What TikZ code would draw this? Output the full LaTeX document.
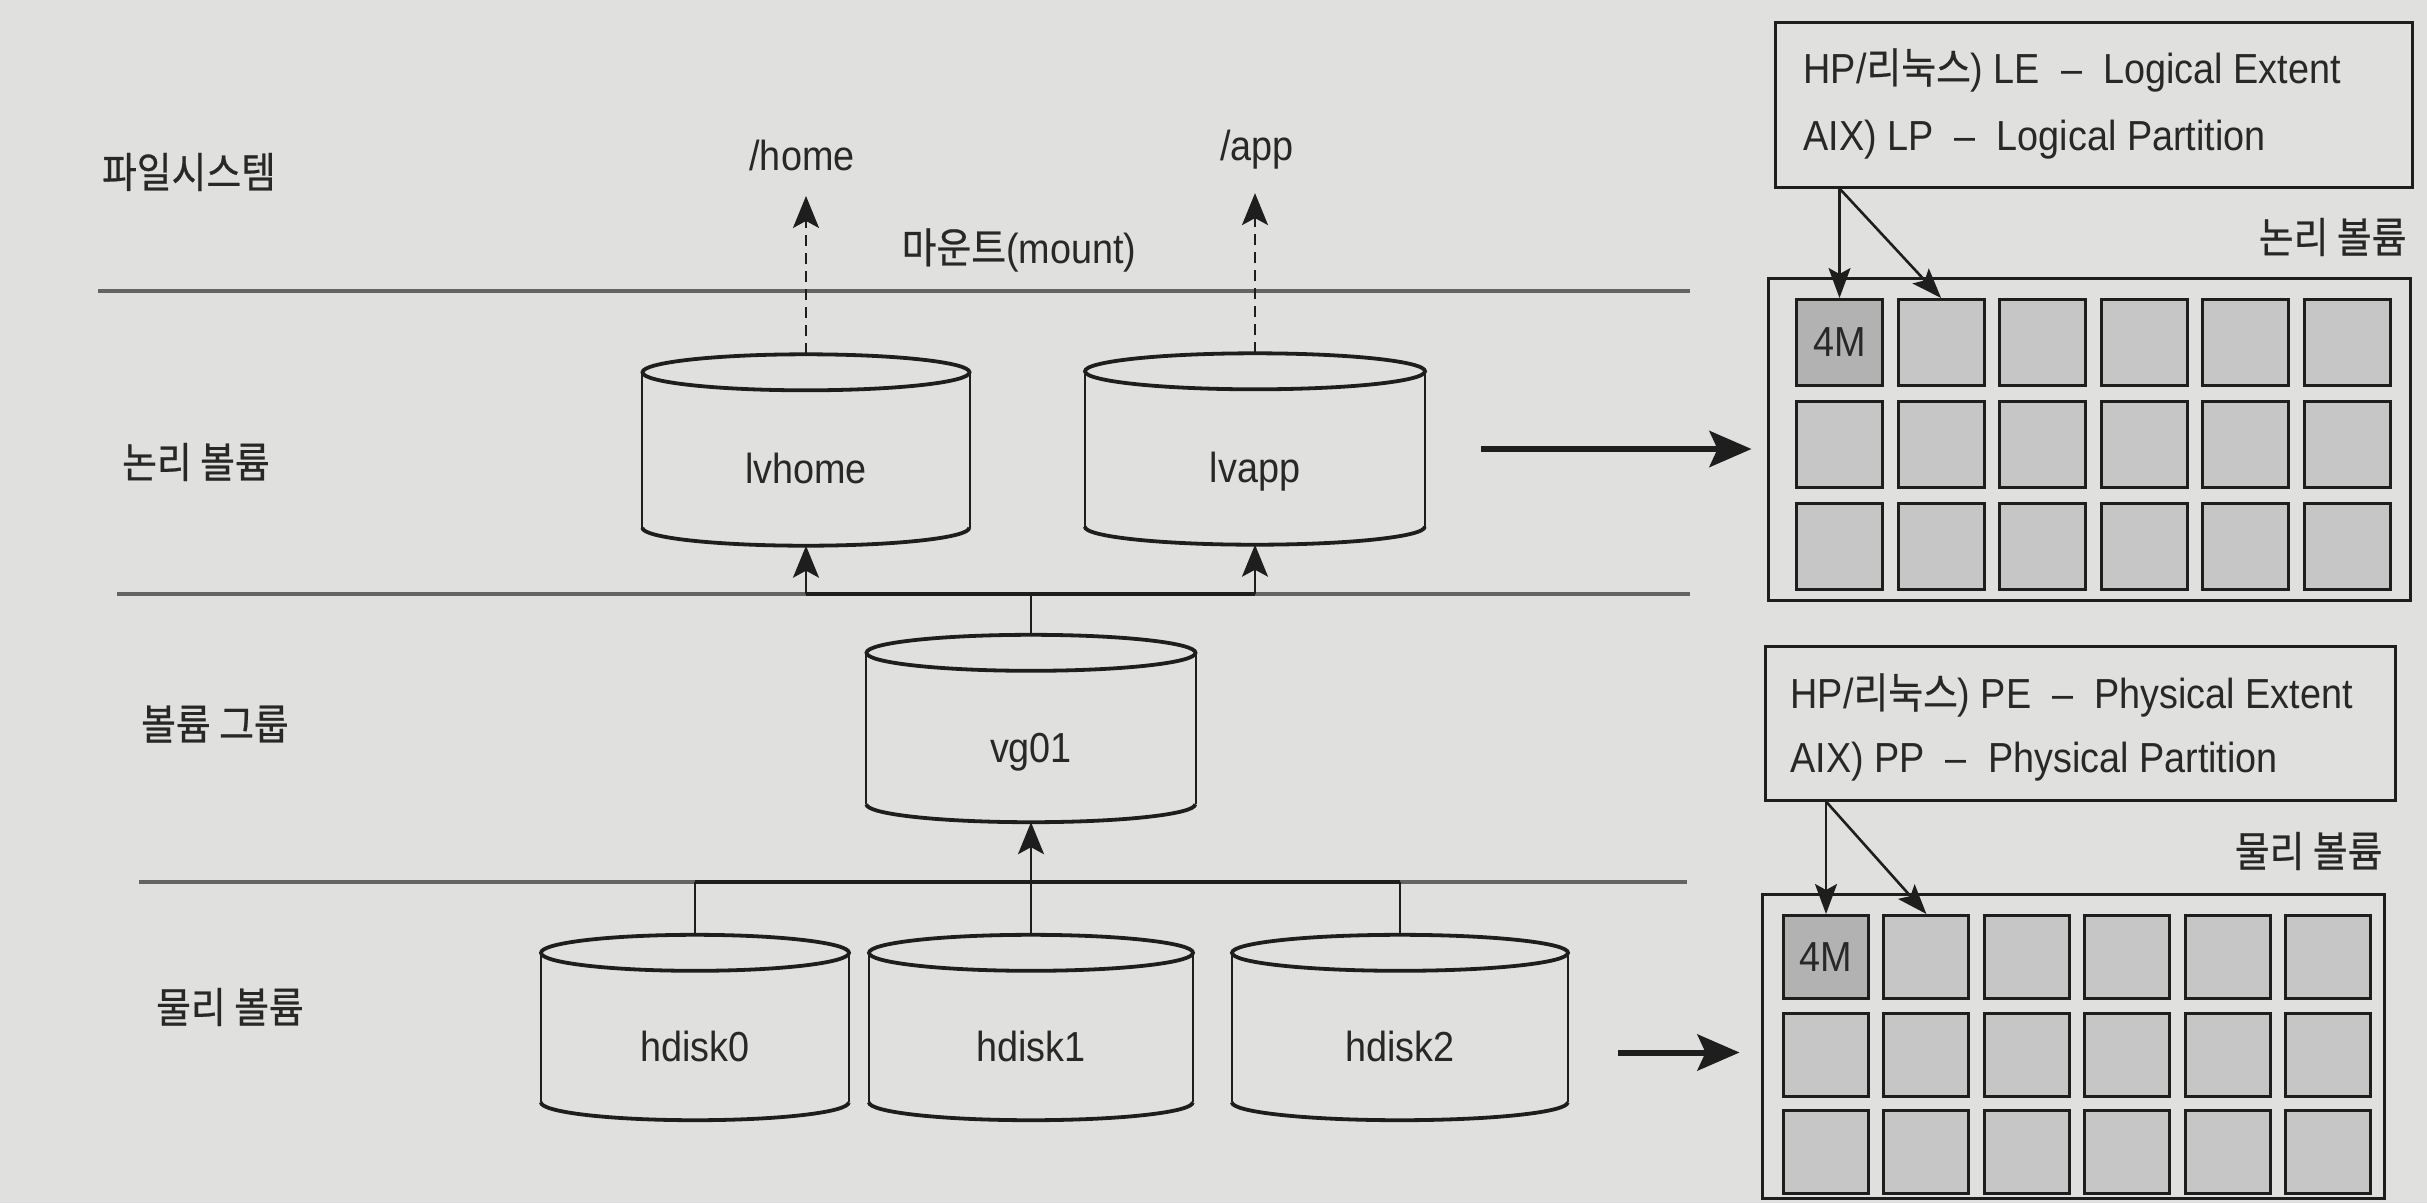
\documentclass[tikz,border=0pt]{standalone}
\usepackage{fontspec}
\setmainfont{Liberation Sans}[FakeStretch=0.9]
\newfontfamily\kr{Noto Sans CJK KR}[FakeStretch=0.9,FakeBold=0.6]
\usetikzlibrary{arrows.meta,calc}
\definecolor{paper}{RGB}{224,224,222}
\definecolor{ink}{RGB}{30,30,30}
\definecolor{txt}{RGB}{40,40,40}
\definecolor{cellc}{RGB}{198,198,198}
\definecolor{cellk}{RGB}{178,178,178}
\definecolor{layerc}{RGB}{100,100,100}
\newcommand\fs{\fontsize{42pt}{50pt}\selectfont}
\newcommand\drawcyl[2]{%
  \draw[cylside] ([yshift=-18pt]#1.north west) -- ([yshift=18pt]#1.south west)
                 ([yshift=-18pt]#1.north east) -- ([yshift=18pt]#1.south east);
  \draw[cylcap] ([yshift=18pt]#1.south west) arc[start angle=180, end angle=360, x radius=#2pt, y radius=18pt];
  \draw[cylcap] ([yshift=-18pt]#1.north) ellipse[x radius=#2pt, y radius=18pt];
}
\begin{document}
\begin{tikzpicture}[x=1pt,y=-1pt,
  every node/.style={font=\fs, text=txt},
  layer/.style={draw=layerc, line width=4pt},
  bus/.style={draw=ink, line width=4.5pt},
  link/.style={draw=ink, line width=2.2pt},
  tipup/.style={-{Stealth[length=32pt,width=26pt,inset=7pt]}},
  dasharrow/.style={draw=ink, line width=2.2pt, dash pattern=on 11pt off 7pt, -{Stealth[length=32pt,width=26pt,inset=7pt]}},
  thinarrow/.style={draw=ink, line width=2.6pt, -{Stealth[length=30pt,width=22pt,inset=6pt]}},
  bigarrow/.style={draw=ink, line width=6pt, -{Stealth[length=42pt,width=36pt,inset=8pt]}},
  cylnode/.style={rectangle, inner sep=0pt, text height=77pt, text depth=10pt},
  cylside/.style={draw=ink, line width=2.2pt},
  cylcap/.style={draw=ink, line width=3.8pt},
  box/.style={rectangle, draw=ink, line width=3pt, inner sep=0pt},
  cell/.style={rectangle, draw=ink, fill=cellc, line width=3pt, inner sep=0pt, anchor=north west, minimum width=86pt, minimum height=86pt},
  pcell/.style={cell, minimum width=85pt, minimum height=83pt},
]
\path[use as bounding box, fill=paper] (0,0) rectangle (2427,1203);

% layer lines
\coordinate (L1a) at (98,291);  \coordinate (L1b) at (1690,291);
\coordinate (L2a) at (117,594); \coordinate (L2b) at (1690,594);
\coordinate (L3a) at (139,882); \coordinate (L3b) at (1687,882);
\draw[layer] (L1a) -- (L1b);
\draw[layer] (L2a) -- (L2b);
\draw[layer] (L3a) -- (L3b);

% left labels
\node (fslab) at (189,172) {\kr 파일시스템};
\node (lvlab) at (196,462) {\kr 논리 볼륨};
\node (vglab) at (215,724) {\kr 볼륨 그룹};
\node (pvlab) at (230,1007) {\kr 물리 볼륨};

% filesystem labels
\node (home) at (802,155) {/home};
\node (app) at (1257,150) {/app};
\node (mnt) at (1019,250) {{\kr 마운트}(mount)};

% cylinders
\node[cylnode, minimum width=327pt, minimum height=191pt] (lvhome) at (806,450) {lvhome};
\node[cylnode, minimum width=340pt, minimum height=191pt] (lvapp) at (1255,449) {lvapp};
\node[cylnode, minimum width=329pt, minimum height=187pt] (vg01) at (1031,728.5) {vg01};
\node[cylnode, minimum width=308pt, minimum height=185pt] (hdisk0) at (695,1027.5) {hdisk0};
\node[cylnode, minimum width=324pt, minimum height=185pt] (hdisk1) at (1031,1027.5) {hdisk1};
\node[cylnode, minimum width=336pt, minimum height=185pt] (hdisk2) at (1400,1027.5) {hdisk2};
\drawcyl{lvhome}{163.5}
\drawcyl{lvapp}{170}
\drawcyl{vg01}{164.5}
\drawcyl{hdisk0}{154}
\drawcyl{hdisk1}{162}
\drawcyl{hdisk2}{168}

% mount arrows
\draw[dasharrow, shorten >=22pt] (lvhome.north) -- (lvhome.north |- home.south);
\draw[dasharrow, shorten >=20pt] (lvapp.north) -- (lvapp.north |- app.south);

% volume group to logical volumes
\draw[link] (vg01.north) -- (vg01.north |- L2a);
\draw[bus] (lvhome.south |- L2a) -- (lvapp.south |- L2a);
\draw[link, tipup] (lvhome.south |- L2a) -- (lvhome.south);
\draw[link, tipup] (lvapp.south |- L2a) -- (lvapp.south);

% physical volumes to volume group
\draw[bus] (hdisk0.north |- L3a) -- (hdisk2.north |- L3a);
\draw[link] (hdisk0.north) -- (hdisk0.north |- L3a);
\draw[link] (hdisk2.north) -- (hdisk2.north |- L3a);
\draw[link, tipup] (hdisk1.north) -- (vg01.south);

% logical extent panel
\node[box, minimum width=637pt, minimum height=165pt] (ltext) at (2093.5,104.5) {};
\node[anchor=base west] (lt1) at (1800,83) {HP/{\kr 리눅스}) LE \ – \ Logical Extent};
\node[anchor=base west] (lt2) at (1800,150) {AIX) LP \ – \ Logical Partition};
\node[anchor=east] (lglab) at (2410,237) {\kr 논리 볼륨};
\node[box, minimum width=642pt, minimum height=322pt] (lgrid) at (2089,439) {};

% physical extent panel
\node[box, minimum width=630pt, minimum height=154pt] (ptext) at (2080,723) {};
\node[anchor=base west] (pt1) at (1787,708) {HP/{\kr 리눅스}) PE \ – \ Physical Extent};
\node[anchor=base west] (pt2) at (1787,772) {AIX) PP \ – \ Physical Partition};
\node[anchor=east] (pglab) at (2386,851) {\kr 물리 볼륨};
\node[box, minimum width=622pt, minimum height=304pt] (pgrid) at (2073,1046) {};

% cells
\foreach \r in {1,2,3}{\foreach \c in {1,...,6}{%
  \ifnum\r\c=11\relax\else
    \node[cell] (l\r\c) at ({1795+(\c-1)*101.6},{298+(\r-1)*102}) {};
    \node[pcell] (p\r\c) at ({1782+(\c-1)*100.4},{914+(\r-1)*97.5}) {};
  \fi}}
\node[cell, fill=cellk] (l11) at (1795,298) {4M};
\node[pcell, fill=cellk] (p11) at (1782,914) {4M};

% extent arrows
\coordinate (ls) at (l11.north |- ltext.south);
\draw[thinarrow] (ls) -- (l11.north);
\draw[thinarrow] (ls) -- (l12.north);
\coordinate (ps) at (p11.north |- ptext.south);
\draw[thinarrow] (ps) -- (p11.north);
\draw[thinarrow] (ps) -- (p12.north);

% mapping arrows
\draw[bigarrow, shorten <=56pt, shorten >=15pt] (lvapp.east) -- (lvapp.east -| lgrid.west);
\coordinate (h2r) at ([yshift=-25pt]hdisk2.east);
\draw[bigarrow, shorten <=50pt, shorten >=21pt] (h2r) -- (h2r -| pgrid.west);
\end{tikzpicture}
\end{document}
